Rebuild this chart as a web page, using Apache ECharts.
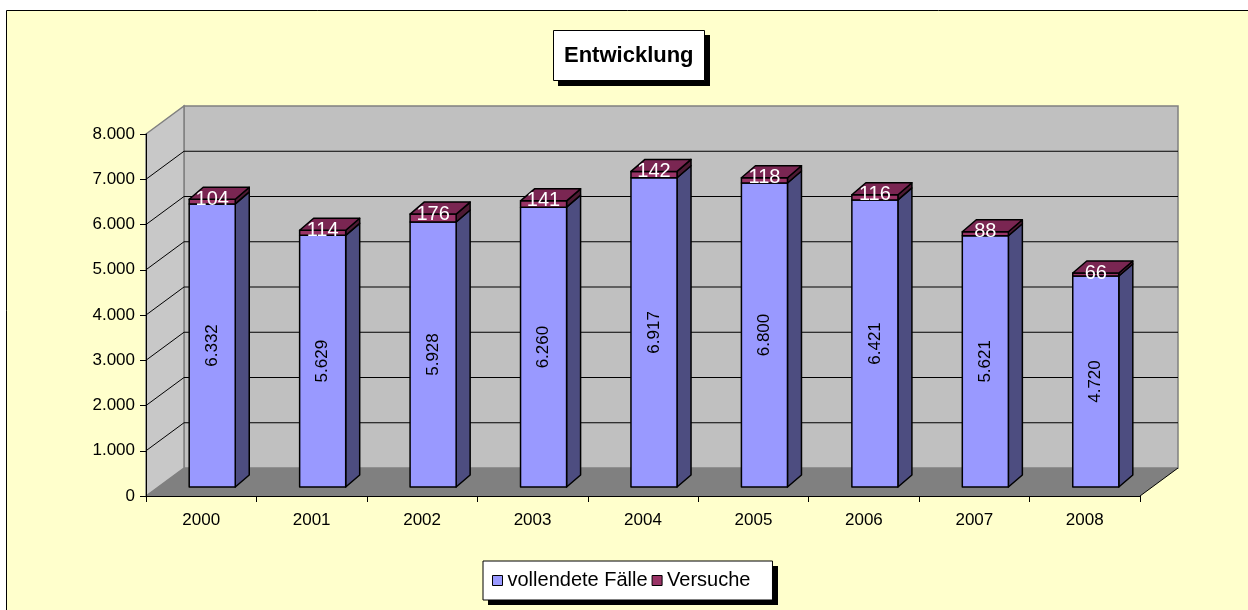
<!DOCTYPE html>
<html>
<head>
<meta charset="utf-8">
<script src="https://cdn.jsdelivr.net/npm/echarts@6/dist/echarts.min.js"></script>
<style>
html,body{margin:0;padding:0;background:#ffffff;}
#chart{position:absolute;left:0;top:0;width:1248px;height:610px;}
</style>
</head>
<body>
<div id="chart"></div>
<script>
// ---- data ----
const years = ['2000','2001','2002','2003','2004','2005','2006','2007','2008'];
const completed = [6332, 5629, 5928, 6260, 6917, 6800, 6421, 5621, 4720];
const attempts = [104, 114, 176, 141, 142, 118, 116, 88, 66];
const seriesNames = ['vollendete Fälle', 'Versuche'];
const titleText = 'Entwicklung';

// ---- styling / geometry constants ----
const FONT = '"Liberation Sans", Arial, sans-serif';
const WALL_D = [38, -28];     // depth of the 3D box
const BAR_OFF = [11, -9];     // bar front face offset from axis plane
const BAR_D = [14, -12];      // bar depth
const BAR_K = 0.988;          // slight perspective shrink of bars
const BAR_W = 0.417;          // bar width as share of category

function fmt(v){ return String(v).replace(/\B(?=(\d{3})+(?!\d))/g, '.'); }

function barGeom(params, api, v1, v2){
  const i = api.value(0);
  const p0 = api.coord([i, 0]);
  const p1 = api.coord([i, v1]);
  const p2 = api.coord([i, v2]);
  const bw = api.size([1, 0])[0] * BAR_W;
  const x0 = p0[0] + BAR_OFF[0] - bw / 2;
  const x1 = x0 + bw;
  const base = p0[1] + BAR_OFF[1];
  const yb = base - (p0[1] - p1[1]) * BAR_K;
  const yc = base - (p0[1] - p2[1]) * BAR_K;
  return {x0, x1, bw, base, yb, yc};
}

const chart = echarts.init(document.getElementById('chart'), null, {renderer: 'canvas'});

const option = {
  backgroundColor: '#ffffff',
  animation: false,
  graphic: [
    {
      type: 'rect', z: -10, silent: true,
      shape: {x: 6.5, y: 10.5, width: 1400, height: 800},
      style: {fill: '#ffffcc', stroke: '#000000', lineWidth: 1}
    },
    { // title box shadow
      type: 'rect', z: 1, silent: true,
      shape: {x: 558, y: 35, width: 152, height: 51},
      style: {fill: '#000000'}
    },
    { // legend box shadow
      type: 'rect', z: 1, silent: true,
      shape: {x: 488, y: 566, width: 290, height: 39},
      style: {fill: '#000000'}
    }
  ],
  title: {
    text: titleText,
    left: 553, top: 30,
    padding: [13, 11],
    backgroundColor: '#ffffff',
    borderColor: '#000000', borderWidth: 1,
    textStyle: {fontFamily: FONT, fontSize: 22, fontWeight: 'bold', color: '#000', lineHeight: 25}
  },
  legend: {
    data: seriesNames,
    left: 483, top: 561,
    padding: [9, 22, 9, 9],
    itemGap: 4,
    itemWidth: 10, itemHeight: 10,
    icon: 'rect',
    backgroundColor: '#ffffff',
    borderColor: '#000000', borderWidth: 1,
    itemStyle: {borderColor: '#000000', borderWidth: 1},
    textStyle: {fontFamily: FONT, fontSize: 20, color: '#000', lineHeight: 21}
  },
  grid: {left: 146, top: 134, width: 994, height: 362, containLabel: false},
  xAxis: {
    type: 'category',
    data: years,
    boundaryGap: true,
    axisLine: {show: true, lineStyle: {color: '#000', width: 1}},
    axisTick: {show: true, length: 6, alignWithLabel: false, lineStyle: {color: '#000'}},
    axisLabel: {fontFamily: FONT, fontSize: 17, color: '#000', margin: 16},
    splitLine: {show: false}
  },
  yAxis: {
    type: 'value',
    min: 0, max: 8000, interval: 1000,
    axisLine: {show: true, lineStyle: {color: '#000', width: 1}},
    axisTick: {show: true, length: 6, lineStyle: {color: '#000'}},
    axisLabel: {fontFamily: FONT, fontSize: 17, color: '#000', margin: 11, formatter: fmt},
    splitLine: {show: false}
  },
  series: [
    {
      // 3D walls, floor and gridlines
      type: 'custom',
      z: -1,
      silent: true,
      data: [[0, 0]],
      renderItem: function(params, api){
        const cs = params.coordSys;
        const x = cs.x, y = cs.y, w = cs.width, h = cs.height;
        const dx = WALL_D[0], dy = WALL_D[1];
        const children = [];
        children.push({type: 'rect', shape: {x: x + dx, y: y + dy, width: w, height: h},
          style: {fill: '#c0c0c0', stroke: '#808080', lineWidth: 1.5}});
        children.push({type: 'polygon', shape: {points: [[x, y], [x + dx, y + dy], [x + dx, y + h + dy], [x, y + h]]},
          style: {fill: '#c8c8c8', stroke: '#808080', lineWidth: 1.5}});
        children.push({type: 'polygon', shape: {points: [[x, y + h], [x + w, y + h], [x + w + dx, y + h + dy], [x + dx, y + h + dy]]},
          style: {fill: '#808080'}});
        children.push({type: 'line', shape: {x1: x + w, y1: y + h, x2: x + w + dx, y2: y + h + dy},
          style: {stroke: '#000', lineWidth: 1}});
        for (let v = 1000; v < 8000; v += 1000) {
          const py = api.coord([0, v])[1];
          children.push({type: 'line', shape: {x1: x + dx, y1: py + dy, x2: x + w + dx, y2: py + dy},
            style: {stroke: '#000', lineWidth: 1}});
          children.push({type: 'line', shape: {x1: x, y1: py, x2: x + dx, y2: py + dy},
            style: {stroke: '#000', lineWidth: 1}});
        }
        return {type: 'group', children: children};
      }
    },
    {
      name: seriesNames[0],
      type: 'custom',
      z: 3,
      itemStyle: {color: '#9999ff', borderColor: '#000', borderWidth: 1},
      data: years.map((y, i) => [i, completed[i]]),
      encode: {x: 0, y: 1},
      renderItem: function(params, api){
        const v = api.value(1);
        const g = barGeom(params, api, v, v);
        const st = {stroke: '#000', lineWidth: 1.5, lineJoin: 'round'};
        return {type: 'group', children: [
          {type: 'polygon', shape: {points: [[g.x1, g.base], [g.x1, g.yb], [g.x1 + BAR_D[0], g.yb + BAR_D[1]], [g.x1 + BAR_D[0], g.base + BAR_D[1]]]},
            style: Object.assign({fill: '#4d4d80'}, st)},
          {type: 'rect', shape: {x: g.x0, y: g.yb, width: g.bw, height: g.base - g.yb},
            style: Object.assign({fill: '#9999ff'}, st)},
          {type: 'text', x: g.x0 + g.bw / 2, y: (g.base + g.yb) / 2, rotation: Math.PI / 2,
            style: {text: fmt(v), fontFamily: FONT, fontSize: 17, fill: '#000', align: 'center', verticalAlign: 'middle'}}
        ]};
      }
    },
    {
      name: seriesNames[1],
      type: 'custom',
      z: 4,
      itemStyle: {color: '#993366', borderColor: '#000', borderWidth: 1},
      data: years.map((y, i) => [i, completed[i], attempts[i]]),
      encode: {x: 0, y: 1},
      renderItem: function(params, api){
        const v1 = api.value(1), a = api.value(2);
        const g = barGeom(params, api, v1, v1 + a);
        const st = {stroke: '#000', lineWidth: 1.5, lineJoin: 'round'};
        const dx = BAR_D[0], dy = BAR_D[1];
        return {type: 'group', children: [
          {type: 'polygon', shape: {points: [[g.x1, g.yb], [g.x1, g.yc], [g.x1 + dx, g.yc + dy], [g.x1 + dx, g.yb + dy]]},
            style: Object.assign({fill: '#4d1a33'}, st)},
          {type: 'rect', shape: {x: g.x0, y: g.yc, width: g.bw, height: g.yb - g.yc},
            style: Object.assign({fill: '#993366'}, st)},
          {type: 'polygon', shape: {points: [[g.x0, g.yc], [g.x1, g.yc], [g.x1 + dx, g.yc + dy], [g.x0 + dx, g.yc + dy]]},
            style: Object.assign({fill: '#7a2652'}, st)},
          {type: 'text', x: g.x0 + g.bw / 2, y: g.yc, z2: 10,
            style: {text: String(a), fontFamily: FONT, fontSize: 20, fill: '#ffffff', align: 'center', verticalAlign: 'middle'}}
        ]};
      }
    }
  ]
};

chart.setOption(option);
</script>
</body>
</html>
